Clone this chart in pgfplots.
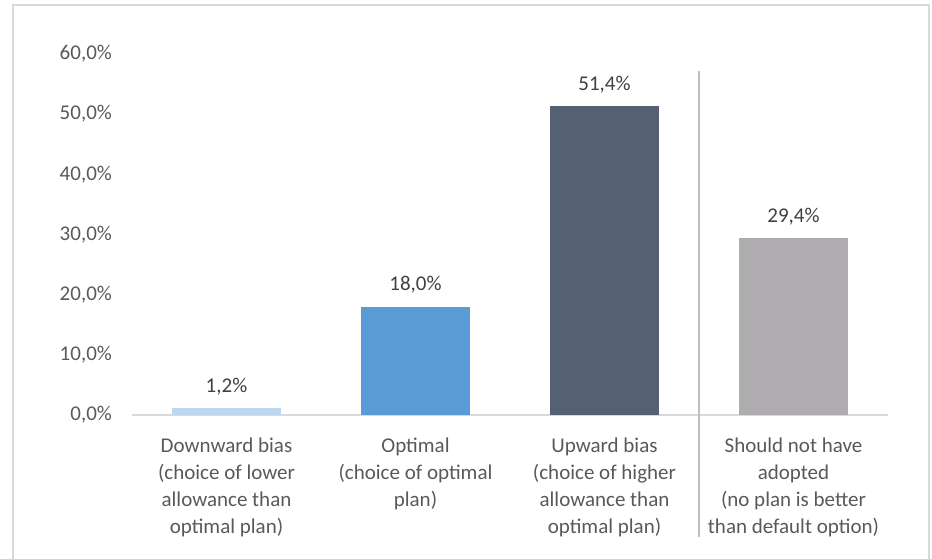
\documentclass[border=0pt]{standalone}
\usepackage{pgfplots}
\pgfplotsset{compat=1.18}
\usepackage{fontspec}
\setmainfont{Carlito}
\definecolor{cA}{HTML}{BDD7EE}
\definecolor{cB}{HTML}{5B9BD5}
\definecolor{cC}{HTML}{556072}
\definecolor{cD}{HTML}{AEACAE}
\definecolor{txt}{HTML}{595959}
\definecolor{val}{HTML}{404040}
\definecolor{frame}{HTML}{D9D9D9}
\definecolor{sep}{HTML}{BFBFBF}
\begin{document}
\begin{tikzpicture}
\useasboundingbox (-66pt,-71.5pt) rectangle (400pt,207.5pt);
\draw[frame, line width=0.8pt] (-59.5pt,-72pt) -- (-59.5pt,205pt) -- (398.5pt,205pt) -- (398.5pt,-72pt);
\begin{axis}[
  at={(0pt,0pt)}, anchor=south west,
  scale only axis, width=378pt, height=180.5pt,
  xmin=-0.5, xmax=3.5, ymin=0, ymax=60,
  axis x line*=bottom, axis y line*=left,
  x axis line style={-, draw=frame, line width=0.9pt},
  y axis line style={-, draw=none},
  major tick length=0pt,
  ytick={0,10,20,30,40,50,60},
  yticklabel={\pgfmathprintnumber[fixed,fixed zerofill,precision=1,use comma,assume math mode=true]{\tick}\%},
  yticklabel style={font=\fontsize{10.5}{13.5}\selectfont, color=txt, xshift=-6.5pt},
  xtick={0,1,2,3},
  xticklabels={{Downward bias\\(choice of lower\\allowance than\\optimal plan)},
               {Optimal\\(choice of optimal\\plan)},
               {Upward bias\\(choice of higher\\allowance than\\optimal plan)},
               {Should not have\\adopted\\(no plan is better\\than default option)}},
  xticklabel style={font=\fontsize{10.5}{13.5}\selectfont, color=txt, align=center, yshift=-8pt},
  ybar, bar width=54.5pt, bar shift=0pt,
  nodes near coords={\pgfmathprintnumber[fixed,fixed zerofill,precision=1,use comma,assume math mode=true]{\pgfplotspointmeta}\%},
  every node near coord/.append style={font=\fontsize{10.5}{13.5}\selectfont, color=val, yshift=3pt},
  clip=false,
]
\addplot[draw=none, fill=cA] coordinates {(0,1.2)};
\addplot[draw=none, fill=cB] coordinates {(1,18.0)};
\addplot[draw=none, fill=cC] coordinates {(2,51.4)};
\addplot[draw=none, fill=cD] coordinates {(3,29.4)};
\draw[sep, line width=0.7pt] (axis cs:2.5,57.2) -- (axis cs:2.5,-20.3);
\end{axis}
\end{tikzpicture}
\end{document}
